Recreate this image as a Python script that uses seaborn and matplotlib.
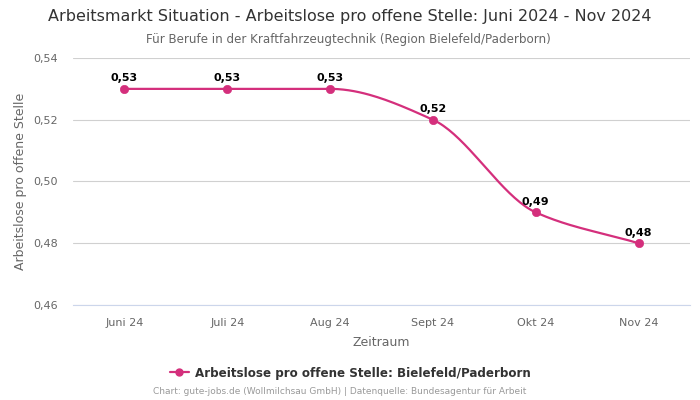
import numpy as np
import pandas as pd
import matplotlib
matplotlib.use("Agg")
import matplotlib.pyplot as plt
import seaborn as sns

categories = ["Juni 24", "Juli 24", "Aug 24", "Sept 24", "Okt 24", "Nov 24"]
values = [0.53, 0.53, 0.53, 0.52, 0.49, 0.48]
series_name = "Arbeitslose pro offene Stelle: Bielefeld/Paderborn"
yticks = [0.46, 0.48, 0.50, 0.52, 0.54]

sns.set_theme(style="white")
plt.rcParams['font.family'] = ['DejaVu Sans']

color = "#d42f7c"
df = pd.DataFrame({"Zeitraum": categories, "Wert": values, "pos": np.arange(len(categories))})

fig = plt.figure(figsize=(7, 4), dpi=100)
ax = fig.add_axes([73/700, 1-305/400, 617/700, 247/400])

# monotone cubic (Fritsch-Carlson) smoothing of the line between data points
x = df["pos"].to_numpy(dtype=float)
y = df["Wert"].to_numpy(dtype=float)
h = np.diff(x)
d = np.diff(y) / h
m = np.zeros_like(y)
m[0], m[-1] = d[0], d[-1]
for i in range(1, len(y) - 1):
    if d[i-1] * d[i] <= 0:
        m[i] = 0
    else:
        w1 = 2*h[i] + h[i-1]
        w2 = h[i] + 2*h[i-1]
        m[i] = (w1 + w2) / (w1/d[i-1] + w2/d[i])
xs, ys = [], []
for i in range(len(x) - 1):
    t = np.linspace(0, 1, 40)
    h00 = 2*t**3 - 3*t**2 + 1
    h10 = t**3 - 2*t**2 + t
    h01 = -2*t**3 + 3*t**2
    h11 = t**3 - t**2
    xs.append(x[i] + t*h[i])
    ys.append(h00*y[i] + h10*h[i]*m[i] + h01*y[i+1] + h11*h[i]*m[i+1])
smooth = pd.DataFrame({"x": np.concatenate(xs), "y": np.concatenate(ys)})

sns.lineplot(data=smooth, x="x", y="y", ax=ax, color=color, linewidth=1.6, sort=False)
sns.scatterplot(data=df, x="pos", y="Wert", ax=ax, color=color, s=36, edgecolor=color, zorder=5)

for xi, yi in zip(x, y):
    ax.annotate(f"{yi:.2f}".replace(".", ","), (xi, yi), xytext=(0, 4), textcoords="offset points",
                ha="center", va="bottom", fontsize=8, fontweight="bold", color="black")

ax.set_xlim(-0.5, len(categories) - 0.5)
ax.set_ylim(0.46, 0.54)
ax.set_yticks(yticks)
ax.set_yticklabels([f"{t:.2f}".replace(".", ",") for t in yticks])
ax.set_xticks(x)
ax.set_xticklabels(categories)
ax.tick_params(axis="both", labelsize=8, colors="#666666", length=0)
ax.tick_params(axis="x", pad=9)
ax.tick_params(axis="y", pad=11)
ax.grid(axis="y", color="#d0d0d0", linewidth=0.8)
for s in ["top", "right", "left"]:
    ax.spines[s].set_visible(False)
ax.spines["bottom"].set_color("#ccd6eb")
ax.spines["bottom"].set_linewidth(0.8)
ax.set_xlabel("Zeitraum", fontsize=9, color="#666666", labelpad=6)
ax.set_ylabel("Arbeitslose pro offene Stelle", fontsize=9, color="#666666", labelpad=4)

fig.text(0.5, 1-17/400, "Arbeitsmarkt Situation - Arbeitslose pro offene Stelle: Juni 2024 - Nov 2024",
         ha="center", va="center", fontsize=11.5, color="#333333")
fig.text(0.497, 1-39/400, "Für Berufe in der Kraftfahrzeugtechnik (Region Bielefeld/Paderborn)",
         ha="center", va="center", fontsize=8.6, color="#666666")

from matplotlib.lines import Line2D
handle = Line2D([0], [0], color=color, marker="o", markersize=5, linewidth=1.6)
fig.legend([handle], [series_name], loc="center", bbox_to_anchor=(0.5, 1-373/400), frameon=False,
           prop={"size": 8.6, "weight": "bold"}, labelcolor="#333333", handlelength=1.6, handletextpad=0.5)
fig.text(340/700, 1-392/400, "Chart: gute-jobs.de (Wollmilchsau GmbH) | Datenquelle: Bundesagentur für Arbeit",
         ha="center", va="center", fontsize=6.5, color="#999999")

fig.savefig("out.png", dpi=100)
